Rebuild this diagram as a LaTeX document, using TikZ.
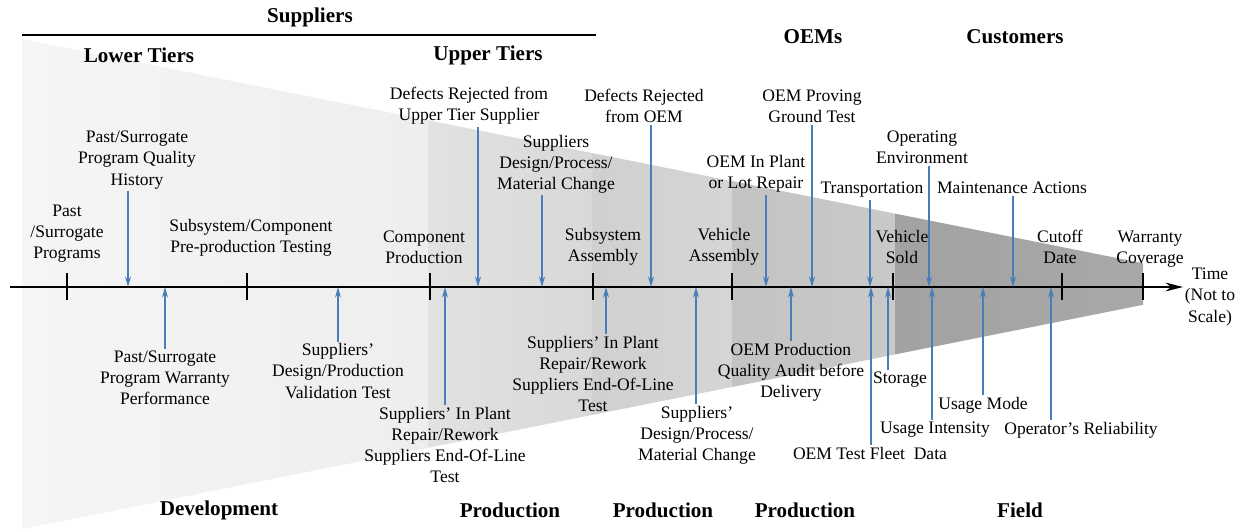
\documentclass[tikz,border=0pt]{standalone}
\usepackage{fontspec}
\setmainfont{Liberation Serif}
\usetikzlibrary{arrows.meta,calc,positioning}
\definecolor{sigblue}{RGB}{74,126,187}
\definecolor{bandAa}{HTML}{F5F5F5}
\definecolor{bandAb}{HTML}{EEEEEE}
\definecolor{bandBa}{HTML}{E2E2E2}
\definecolor{bandBb}{HTML}{D8D8D8}
\definecolor{bandCa}{HTML}{D0D0D0}
\definecolor{bandCb}{HTML}{D5D5D5}
\definecolor{bandDa}{HTML}{C3C3C3}
\definecolor{bandDb}{HTML}{C9C9C9}
\definecolor{bandEa}{HTML}{A2A2A2}
\definecolor{bandEb}{HTML}{A8A8A8}

\begin{document}
\begin{tikzpicture}[x=0.02cm, y=-0.02cm,
		note/.style={align=center, inner sep=1pt, font=\fontsize{10}{12}\selectfont},
		heading/.style={inner sep=1pt, font=\fontsize{12}{14}\selectfont\bfseries},
		sig/.style={draw=sigblue, line width=0.7pt, -{Stealth[length=6pt, width=3.4pt]}},
		tickmark/.style={line width=0.8pt},]
	\useasboundingbox (0,0) rectangle (1238,529);

	\foreach \xa/\xb/\ca/\cb in {22/428/bandAa/bandAb, 428/592/bandBa/bandBb, 592/732/bandCa/bandCb, 732/895/bandDa/bandDb, 895/1143/bandEa/bandEb}
	\shade[left color=\ca, right color=\cb] (\xa,{39+0.2*(\xa-22)}) -- (\xb,{39+0.2*(\xb-22)}) -- (\xb,{529-0.2*(\xb-22)}) -- (\xa,{529-0.2*(\xa-22)}) -- cycle;

	\node (suppliers) [heading] at (310,17) {Suppliers};
	\draw [line width=1.2pt] (22,35) -- (596,35);
	\node (lowtiers) [heading] at (139,55) {Lower Tiers};
	\node (uptiers) [heading] at (488,55) {Upper Tiers};
	\node (oems) [heading] at (813,37) {OEMs};
	\node (customers) [heading] at (1015,37) {Customers};
	\node (develop) [heading] at (219,510) {Development};
	\node (prodsup) [heading] at (510,510) {Production};
	\node (prodasm) [heading] at (663,510) {Production};
	\node (prodoem) [heading] at (805,510) {Production};
	\node (field) [heading] at (1020,510) {Field};

	\coordinate (tstart) at (10,287);
	\coordinate (tend) at (1183,287);
	\draw [line width=0.8pt, -{Stealth[length=10pt, width=5pt]}] (tstart) -- (tend);
	\foreach \x in {67,247,430,593,732,893,1062,1143}
	\draw [tickmark] (\x,273) -- (\x,300);

	\node (past) [note] at (67,234) {Past\\/Surrogate\\Programs};
	\node (subcomp) [note] at (251,238) {Subsystem/Component\\Pre-production Testing};
	\node (comprod) [note] at (424,247) {Component\\Production};
	\node (subasm) [note] at (603,247) {Subsystem\\Assembly};
	\node (vehasm) [note] at (724,247) {Vehicle\\Assembly};
	\node (vehsold) [note] at (902,247) {Vehicle\\Sold};
	\node (cutoff) [note] at (1060,247) {Cutoff\\Date};
	\node (warranty) [note] at (1150,249) {Warranty\\Coverage};
	\node (time) [note] at (1210,297) {Time\\(Not to\\Scale)};

	\node (hist) [note] at (137,160) {Past/Surrogate\\Program Quality\\History};
	\node (defup) [note] at (469,106) {Defects Rejected from\\Upper Tier Supplier};
	\node (supdes) [note] at (556,164) {Suppliers\\Design/Process/\\Material Change};
	\node (defoem) [note] at (644,106) {Defects Rejected\\from OEM};
	\node (oemrep) [note] at (756,174) {OEM In Plant\\or Lot Repair};
	\node (proving) [note] at (812,106) {OEM Proving\\Ground Test};
	\node (transp) [note] at (872,190) {Transportation};
	\node (operenv) [note] at (922,147) {Operating\\Environment};
	\node (maint) [note] at (1012,188) {Maintenance Actions};

	\node (warrperf) [note] at (165,378) {Past/Surrogate\\Program Warranty\\Performance};
	\node (valtest) [note] at (338,371) {Suppliers'\\Design/Production\\Validation Test};
	\node (inplant) [note] at (445,445) {Suppliers' In Plant\\Repair/Rework\\Suppliers End-Of-Line\\Test};
	\node (inplantb) [note] at (593,374) {Suppliers' In Plant\\Repair/Rework\\Suppliers End-Of-Line\\Test};
	\node (supdesb) [note] at (697,435) {Suppliers'\\Design/Process/\\Material Change};
	\node (audit) [note] at (791,372) {OEM Production\\Quality Audit before\\Delivery};
	\node (storage) [note] at (900,380) {Storage};
	\node (fleet) [note] at (870,453) {OEM Test Fleet\enspace Data};
	\node (intensity) [note] at (935,430) {Usage Intensity};
	\node (usemode) [note] at (983,405) {Usage Mode};
	\node (operrel) [note] at (1081,430) {Operator's Reliability};

	\foreach \n/\x in {hist/128, defup/478, supdes/542, defoem/651, oemrep/766, proving/812, transp/870, operenv/929, maint/1013}
	{
		\coordinate (ax-\n) at (\x,287);
		\draw [sig] (\n.south -| ax-\n) -- (ax-\n);
	}
	\foreach \n/\x in {warrperf/165, valtest/338, inplant/445, inplantb/606, supdesb/696, audit/791, storage/888, fleet/871, intensity/932, usemode/983, operrel/1051}
	{
		\coordinate (ax-\n) at (\x,287);
		\draw [sig] (\n.north -| ax-\n) -- (ax-\n);
	}
\end{tikzpicture}
\end{document}
